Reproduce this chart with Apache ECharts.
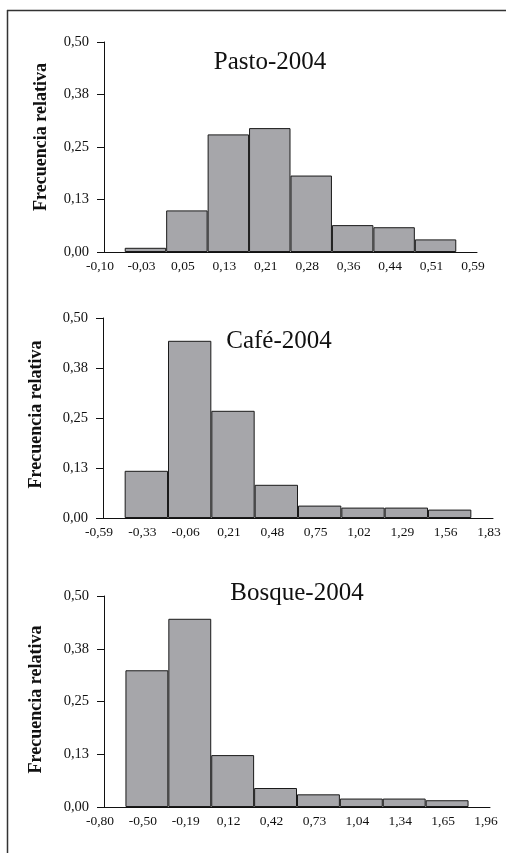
<!DOCTYPE html>
<html>
<head>
<meta charset="utf-8">
<script src="https://cdn.jsdelivr.net/npm/echarts@6/dist/echarts.min.js"></script>
<style>
  html, body { margin: 0; padding: 0; background: #fff; }
  #chart { width: 506px; height: 853px; }
</style>
</head>
<body>
<div id="chart"></div>
<script>
// class marks (first and last are empty classes)
var pastoBins = ['-0,10', '-0,03', '0,05', '0,13', '0,21', '0,28', '0,36', '0,44', '0,51', '0,59'];
var pastoFreq = [0.010, 0.099, 0.280, 0.295, 0.182, 0.064, 0.059, 0.030];

var cafeBins = ['-0,59', '-0,33', '-0,06', '0,21', '0,48', '0,75', '1,02', '1,29', '1,56', '1,83'];
var cafeFreq = [0.118, 0.443, 0.268, 0.083, 0.031, 0.026, 0.026, 0.021];

var bosqueBins = ['-0,80', '-0,50', '-0,19', '0,12', '0,42', '0,73', '1,04', '1,34', '1,65', '1,96'];
var bosqueFreq = [0.324, 0.446, 0.123, 0.045, 0.030, 0.020, 0.020, 0.016];

var yTickLabels = ['0,00', '0,13', '0,25', '0,38', '0,50'];
var titles = ['Pasto-2004', 'Café-2004', 'Bosque-2004'];

var serif = 'Liberation Serif';

var panels = [
  { bins: pastoBins, freq: pastoFreq, grid: { left: 104, right: 29, top: 42, height: 210 }, titleX: 270, titleY: 50, nameGap: 54, namePad: 20 },
  { bins: cafeBins, freq: cafeFreq, grid: { left: 103, right: 13, top: 318, height: 200 }, titleX: 279, titleY: 329, nameGap: 58, namePad: 7 },
  { bins: bosqueBins, freq: bosqueFreq, grid: { left: 104, right: 16, top: 596, height: 211 }, titleX: 297, titleY: 581, nameGap: 59, namePad: 4 }
];

var option = {
  backgroundColor: '#fff',
  animation: false,
  title: [],
  grid: [],
  xAxis: [],
  yAxis: [],
  series: [],
  graphic: [
    { type: 'line', shape: { x1: 7, y1: 10.5, x2: 506, y2: 10.5 }, style: { stroke: '#333', lineWidth: 1.5 } },
    { type: 'line', shape: { x1: 7.5, y1: 10, x2: 7.5, y2: 853 }, style: { stroke: '#333', lineWidth: 1.5 } }
  ]
};

panels.forEach(function (p, i) {
  option.title.push({
    text: titles[i],
    left: p.titleX,
    top: p.titleY,
    textAlign: 'center',
    padding: 0,
    textStyle: { fontFamily: serif, fontSize: 25, fontWeight: 'normal', color: '#111' }
  });
  option.grid.push(p.grid);
  option.xAxis.push({
    type: 'category',
    gridIndex: i,
    data: p.bins,
    boundaryGap: false,
    axisTick: { show: false },
    axisLine: { lineStyle: { color: '#111', width: 1 } },
    axisLabel: {
      interval: 0,
      margin: 7,
      padding: [0, 8, 0, 0],
      fontFamily: serif,
      fontSize: 13.5,
      color: '#111'
    },
    splitLine: { show: false }
  });
  option.yAxis.push({
    type: 'value',
    gridIndex: i,
    min: 0,
    max: 0.5,
    interval: 0.125,
    name: 'Frecuencia relativa',
    nameLocation: 'middle',
    nameGap: p.nameGap,
    nameTextStyle: {
      fontFamily: serif,
      fontSize: 18,
      fontWeight: 'bold',
      color: '#111',
      padding: [0, 0, 0, p.namePad]
    },
    axisLine: { show: true, lineStyle: { color: '#111', width: 1 } },
    axisTick: { show: true, inside: false, length: 7, lineStyle: { color: '#111' } },
    axisLabel: {
      margin: 15,
      fontFamily: serif,
      fontSize: 14.5,
      color: '#111',
      formatter: function (v, idx) { return yTickLabels[idx]; }
    },
    splitLine: { show: false }
  });
  option.series.push({
    type: 'bar',
    xAxisIndex: i,
    yAxisIndex: i,
    barWidth: '100%',
    data: ['-'].concat(p.freq).concat(['-']),
    itemStyle: { color: '#a6a6aa', borderColor: '#1a1a1a', borderWidth: 1 }
  });
});

var myChart = echarts.init(document.getElementById('chart'));
myChart.setOption(option);
</script>
</body>
</html>
